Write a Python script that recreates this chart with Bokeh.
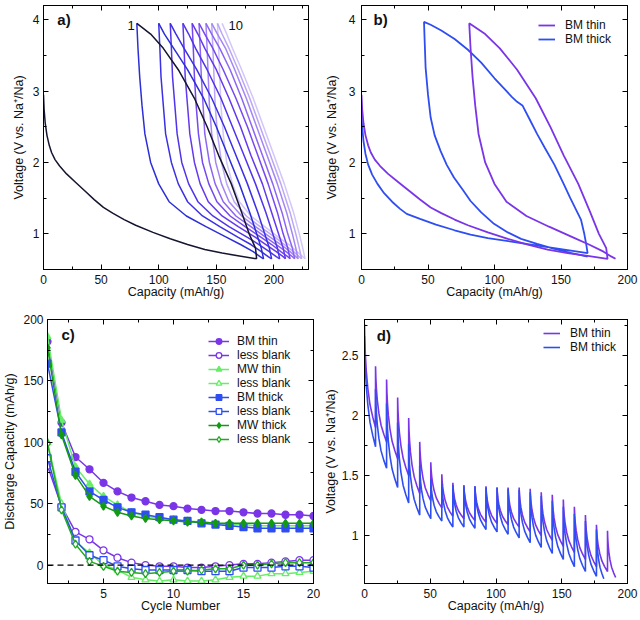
from bokeh.plotting import figure
from bokeh.models import (Range1d, LinearAxis, SingleIntervalTicker, Label,
                          Legend, LegendItem, Span, CustomJSTickFormatter)
from bokeh.layouts import column, row
from bokeh.embed import file_html
from bokeh.resources import INLINE

FONT = "Liberation Sans"
TXT = "#111111"

# ---------------- panel a / b : galvanostatic cycles ----------------
a_dis_volts = [3.95, 3.6, 3.2, 2.8, 2.4, 2.0, 1.7, 1.45, 1.25, 1.1, 0.95, 0.85, 0.75, 0.68, 0.65]
a_chg_volts = [0.65, 0.8, 1.0, 1.3, 1.7, 2.1, 2.5, 2.9, 3.3, 3.6, 3.8, 3.95]

a_dis1_cap = [0, 0.5, 1.5, 3, 5, 7, 10, 14, 20, 28, 36, 44, 52, 60, 70, 80, 95, 110, 125, 140, 155, 170, 185]
a_dis1_v = [2.95, 2.75, 2.55, 2.38, 2.24, 2.14, 2.04, 1.95, 1.84, 1.72, 1.6, 1.48, 1.37, 1.29, 1.2, 1.12,
            1.02, 0.93, 0.85, 0.78, 0.73, 0.69, 0.65]

a_dis2 = [81, 82, 83.5, 85.5, 88, 93, 100, 109, 124, 141, 159, 171, 182, 188, 191]
a_dis3 = [100, 101, 102, 104, 106, 111, 117, 125, 138, 153, 169, 180, 189, 195, 198]
a_dis4 = [110, 111, 112, 114, 116, 120, 126, 134, 147, 161, 177, 187, 196, 202, 205]
a_dis5 = [121, 122, 123, 125, 127, 131, 136, 143, 155, 169, 184, 193, 202, 208, 210]
a_dis6 = [129, 130, 131, 132.5, 134.5, 138, 143.5, 150.5, 162, 175, 189, 198, 206, 212, 214]
a_dis7 = [135, 136, 137, 138.5, 140, 144, 149, 156, 167, 180, 193, 202, 210.5, 216, 218]
a_dis8 = [141, 142, 143, 144, 146, 149.5, 154.5, 161, 172, 184, 197, 206, 214, 219, 221]
a_dis9 = [146, 147, 148, 149, 151, 154.5, 159, 165.5, 176, 188, 201, 209, 217, 222, 224]
a_dis10 = [151, 152, 153, 154, 156, 159, 164, 170, 180, 192, 204, 213, 220, 225, 227]

a_chg1 = [185, 184, 178.5, 172, 163, 152, 142, 131, 117, 104, 93, 81]
a_chg2 = [191, 189, 185, 179, 170, 160, 150, 139, 125, 113, 105, 100]
a_chg3 = [198, 196, 192, 186, 177, 167, 157, 146, 133, 122, 115, 110]
a_chg4 = [205, 203, 199, 193, 184, 174, 164, 154, 142, 132, 126, 121]
a_chg5 = [210, 208, 204, 198, 190, 180, 171, 161, 150, 140, 134, 129]
a_chg6 = [214, 212, 208, 203, 195, 186, 177, 167, 156, 147, 140, 135]
a_chg7 = [218, 216, 212, 207, 199, 190, 181, 172, 162, 153, 146, 141]
a_chg8 = [221, 219, 216, 211, 203, 194, 185, 176, 166, 158, 151, 146]
a_chg9 = [224, 222, 219, 214, 206, 197, 188, 179, 169, 161, 155, 151]
a_chg10 = [227, 225, 222, 217, 209, 200, 191, 182, 172, 164, 159, 155]

a_cycle_colors = ["#151530", "#2c2fd8", "#3b30e4", "#4f34ec", "#6438ee",
                  "#7648f0", "#8c66f2", "#a386f4", "#bba6f7", "#d3c6fa"]

# panel b, BM thick
b_thick_dis1_cap = [0, 0.5, 1.5, 3, 5, 8, 12, 17, 23, 29, 34, 44, 56, 70, 82, 95, 120, 145, 170]
b_thick_dis1_v = [2.65, 2.5, 2.3, 2.12, 1.97, 1.83, 1.7, 1.57, 1.45, 1.35, 1.28, 1.21, 1.13, 1.05, 0.99,
                  0.94, 0.87, 0.8, 0.73]
b_thick_chg1_cap = [170, 169, 167.5, 165, 161, 157, 152, 145, 138, 132, 126, 121, 117, 113, 108, 100,
                    90, 80, 70, 60, 52, 47]
b_thick_chg1_v = [0.73, 0.85, 1.0, 1.2, 1.35, 1.5, 1.7, 1.97, 2.2, 2.4, 2.62, 2.8, 2.85, 2.92, 3.02,
                  3.18, 3.4, 3.58, 3.73, 3.85, 3.93, 3.97]
b_thick_dis2_cap = [47, 47.5, 48.2, 50, 52, 55, 59.5, 64, 69.5, 76, 82, 90, 99.6, 110, 120, 132, 145, 158, 170]
b_thick_dis2_v = [3.97, 3.7, 3.33, 2.95, 2.63, 2.38, 2.16, 1.97, 1.79, 1.62, 1.46, 1.3, 1.14, 1.02, 0.93,
                  0.86, 0.79, 0.73, 0.68]

# ---------------- panel c : discharge capacity vs cycle ----------------
c_cycles = list(range(1, 21))
c_bm_thin = [182, 116, 88, 78, 67, 60, 55, 52, 49, 48, 46, 45, 44, 44, 43, 42, 42, 41, 41, 40]
c_bm_thin_lb = [81, 48, 27, 21, 12, 6, 2, 0, -1, -1, -2, -2, -1, 0, 1, 1, 2, 3, 4, 4]
c_mw_thin = [186, 118, 80, 66, 56, 49, 43, 40, 38, 37, 36, 35, 34, 33, 33, 32, 32, 32, 32, 32]
c_mw_thin_lb = [100, 50, 19, 10, 0, -4, -10, -12, -13, -12, -13, -13, -12, -10, -9, -9, -7, -7, -6, -5]
c_bm_thick = [164, 108, 76, 60, 53, 47, 43, 41, 39, 37, 36, 34, 33, 32, 31, 30, 30, 30, 30, 30]
c_bm_thick_lb = [87, 47, 20, 8, 4, -1, -3, -4, -4, -4, -4, -5, -5, -5, -2, -2, -2, -1, -1, -2]
c_mw_thick = [177, 106, 73, 56, 48, 43, 40, 38, 37, 36, 35, 35, 34, 34, 34, 34, 34, 34, 34, 34]
c_mw_thick_lb = [99, 45, 17, 3, -1, -5, -6, -7, -6, -5, -5, -4, -3, -3, 0, 0, 1, 2, 2, 2]
c_labels = ["BM thin", "less blank", "MW thin", "less blank",
            "BM thick", "less blank", "MW thick", "less blank"]

# ---------------- panel d : pulsed discharge ----------------
d_thin_start = [0, 8.4, 16.8, 25.2, 33.6, 42.0, 50.4, 58.8, 67.2, 75.6, 84.0, 92.4, 100.8, 109.2,
                117.6, 126.0, 134.4, 142.8, 151.2, 159.6, 168.0, 176.4, 184.8]
d_thin_end = 191
d_thin_top = [2.76, 2.41, 2.30, 2.15, 1.98, 1.78, 1.61, 1.51, 1.44, 1.42, 1.41, 1.41, 1.40, 1.40,
              1.40, 1.39, 1.36, 1.34, 1.30, 1.24, 1.17, 1.09, 1.04]
d_thin_bottom = [1.90, 1.78, 1.64, 1.50, 1.35, 1.29, 1.23, 1.16, 1.14, 1.125, 1.11, 1.10, 1.09, 1.07,
                 1.03, 1.00, 0.96, 0.91, 0.86, 0.80, 0.74, 0.70, 0.65]
d_thick_start = [0, 8.4, 16.8, 25.2, 33.6, 42.0, 50.4, 58.8, 67.2, 75.6, 84.0, 92.4, 100.8, 109.2,
                 117.6, 126.0, 134.4, 142.8, 151.2, 159.6, 168.0, 176.4]
d_thick_end = 182
d_thick_top = [2.66, 2.22, 2.10, 1.94, 1.76, 1.58, 1.47, 1.43, 1.42, 1.41, 1.41, 1.40, 1.40, 1.39,
               1.38, 1.36, 1.33, 1.29, 1.24, 1.18, 1.12, 1.05]
d_thick_bottom = [1.74, 1.56, 1.40, 1.27, 1.17, 1.14, 1.12, 1.07, 1.07, 1.06, 1.05, 1.03, 1.01, 0.98,
                  0.94, 0.90, 0.85, 0.80, 0.74, 0.70, 0.66, 0.64]
# relaxation-decay profile of one pulse
d_pulse_frac_x = [0, 0.03, 0.08, 0.16, 0.3, 0.5, 0.75, 1.0]
d_pulse_frac_drop = [0, 0.16, 0.3, 0.45, 0.62, 0.78, 0.9, 1.0]

THIN = "#7a35e8"
THICK = "#2e4ef2"
MW_THIN = "#66ee66"
MW_THICK = "#139a13"


def style_axis(ax):
    ax.axis_line_color = "black"
    ax.axis_line_width = 1
    ax.major_tick_in = 5
    ax.major_tick_out = 0
    ax.minor_tick_in = 3
    ax.minor_tick_out = 0
    ax.major_tick_line_color = "black"
    ax.minor_tick_line_color = "black"
    ax.major_label_text_font = FONT
    ax.major_label_text_font_size = "12px"
    ax.major_label_text_color = TXT
    ax.axis_label_text_font = FONT
    ax.axis_label_text_font_size = "12.5px"
    ax.axis_label_text_font_style = "normal"
    ax.axis_label_text_color = TXT


def make_fig(w, h, xr, yr, bl, br, bt, bb, xint, yint, xlabel, ylabel,
             ylab_so=4, yaxis_sub=4, yfmt=None):
    p = figure(width=w, height=h, x_range=Range1d(*xr), y_range=Range1d(*yr),
               output_backend="svg", toolbar_location=None,
               min_border_left=bl, min_border_right=br, min_border_top=bt, min_border_bottom=bb)
    p.background_fill_color = "white"
    p.border_fill_color = "white"
    p.outline_line_color = "black"
    p.outline_line_width = 1
    p.outline_line_alpha = 1
    p.grid.visible = False
    xa = p.xaxis[0]
    ya = p.yaxis[0]
    xa.ticker = SingleIntervalTicker(interval=xint, num_minor_ticks=2)
    ya.ticker = SingleIntervalTicker(interval=yint, num_minor_ticks=2)
    if yfmt is not None:
        ya.formatter = yfmt
    style_axis(xa)
    style_axis(ya)
    xa.axis_label = xlabel
    ya.axis_label = ylabel
    xa.major_label_standoff = 5
    xa.axis_label_standoff = -2
    ya.major_label_standoff = yaxis_sub
    ya.axis_label_standoff = ylab_so
    for loc, iv in (("above", xint), ("right", yint)):
        ax = LinearAxis(ticker=SingleIntervalTicker(interval=iv, num_minor_ticks=2),
                        formatter=CustomJSTickFormatter(code="return ''"))
        style_axis(ax)
        ax.major_label_text_font_size = "1px"
        ax.major_label_standoff = 0
        p.add_layout(ax, loc)
    return p


def panel_label(p, x, y, text):
    p.add_layout(Label(x=x, y=y, text=text, text_font=FONT, text_font_style="bold",
                       text_font_size="15px", text_baseline="middle", text_color=TXT))


def make_legend(items, x, y, gw, lh, standoff):
    return Legend(items=items, location=(x, y), label_text_font=FONT, label_text_font_size="12px",
                  label_text_color=TXT, label_height=lh, glyph_height=lh, glyph_width=gw,
                  label_standoff=standoff, spacing=0, padding=0, margin=0,
                  border_line_alpha=0, background_fill_alpha=0)


VOLT = "Voltage (V vs. Na\u207a/Na)"
CAP = "Capacity (mAh/g)"

# frame geometry (px)
ROW1_H, ROW2_H = 306, 312
R1_TOP, R1_BOT = 5, 37
R2_TOP, R2_BOT = 13, 35
F1_H = ROW1_H - R1_TOP - R1_BOT
F2_H = ROW2_H - R2_TOP - R2_BOT

# ---------------- panel a ----------------
pa = make_fig(320, ROW1_H, (0, 230), (0.5, 4.2), 43, 12, R1_TOP, R1_BOT, 50, 1, CAP, VOLT,
              ylab_so=4, yaxis_sub=4)
dis_list = [a_dis2, a_dis3, a_dis4, a_dis5, a_dis6, a_dis7, a_dis8, a_dis9, a_dis10]
chg_list = [a_chg1, a_chg2, a_chg3, a_chg4, a_chg5, a_chg6, a_chg7, a_chg8, a_chg9, a_chg10]
for i in range(9, 0, -1):
    col = a_cycle_colors[i]
    pa.line(chg_list[i], a_chg_volts, line_color=col, line_width=1.5)
    pa.line(dis_list[i - 1], a_dis_volts, line_color=col, line_width=1.5)
pa.line(a_dis1_cap, a_dis1_v, line_color=a_cycle_colors[0], line_width=1.5)
pa.line(a_chg1, a_chg_volts, line_color=a_cycle_colors[0], line_width=1.5)
panel_label(pa, 12, 4.01, "a)")
pa.add_layout(Label(x=73, y=3.92, text="1", text_font=FONT, text_font_size="13px",
                    text_baseline="middle", text_color=TXT))
pa.add_layout(Label(x=160.6, y=3.92, text="10", text_font=FONT, text_font_size="13px",
                    text_baseline="middle", text_color=TXT))

# ---------------- panel b ----------------
pb = make_fig(318, ROW1_H, (0, 200), (0.5, 4.2), 41, 11, R1_TOP, R1_BOT, 50, 1, CAP, VOLT,
              ylab_so=7, yaxis_sub=6)
thin_x = a_dis1_cap + a_chg1 + a_dis2
thin_y = a_dis1_v + a_chg_volts + a_dis_volts
thick_x = b_thick_dis1_cap + b_thick_chg1_cap + b_thick_dis2_cap
thick_y = b_thick_dis1_v + b_thick_chg1_v + b_thick_dis2_v
rb_thick = pb.line(thick_x, thick_y, line_color=THICK, line_width=1.8)
rb_thin = pb.line(thin_x, thin_y, line_color=THIN, line_width=1.8)
panel_label(pb, 9, 4.0, "b)")
pb.add_layout(make_legend([LegendItem(label="BM thin", renderers=[rb_thin]),
                           LegendItem(label="BM thick", renderers=[rb_thick])],
                          177, F1_H - 13 - 28, 17, 14, 10))

# ---------------- panel c ----------------
pc = make_fig(320, ROW2_H, (1, 20), (-15, 200), 43, 7, R2_TOP, R2_BOT, 5, 50, "Cycle Number",
              "Discharge Capacity (mAh/g)", ylab_so=3, yaxis_sub=4)
pc.add_layout(Span(location=0, dimension="width", line_color="black", line_dash="6 4", line_width=1.3))
c_series = [
    (c_bm_thin, THIN, "circle", True),
    (c_bm_thin_lb, THIN, "circle", False),
    (c_mw_thin, MW_THIN, "triangle", True),
    (c_mw_thin_lb, MW_THIN, "triangle", False),
    (c_bm_thick, THICK, "square", True),
    (c_bm_thick_lb, THICK, "square", False),
    (c_mw_thick, MW_THICK, "diamond", True),
    (c_mw_thick_lb, "#22aa22", "diamond", False),
]
c_items = []
for (vals, col, mk, filled), lab in zip(c_series, c_labels):
    ln = pc.line(c_cycles, vals, line_color=col, line_width=1.5)
    sc = pc.scatter(c_cycles, vals, marker=mk, size=7 if mk != "diamond" else 8,
                    fill_color=col if filled else "white", line_color=col, line_width=1.3)
    c_items.append(LegendItem(label=lab, renderers=[ln, sc]))
panel_label(pc, 2.0, 188, "c)")
pc.add_layout(make_legend(c_items, 161, F2_H - 15 - 112, 21, 14, 8))

# ---------------- panel d ----------------


def gitt_path(starts, end, tops, bottoms):
    xs, ys = [], []
    nxt = starts[1:] + [end]
    for x0, x1, t, b in zip(starts, nxt, tops, bottoms):
        for fx, fd in zip(d_pulse_frac_x, d_pulse_frac_drop):
            xs.append(x0 + fx * (x1 - x0))
            ys.append(t - fd * (t - b))
    return xs, ys


dfmt = CustomJSTickFormatter(code="return String(tick)")
pd_ = make_fig(318, ROW2_H, (0, 200), (0.6, 2.8), 41, 11, R2_TOP, R2_BOT, 50, 0.5, CAP, VOLT,
               ylab_so=1, yaxis_sub=6, yfmt=dfmt)
tx, ty = gitt_path(d_thick_start, d_thick_end, d_thick_top, d_thick_bottom)
nx, ny = gitt_path(d_thin_start, d_thin_end, d_thin_top, d_thin_bottom)
rd_thin = pd_.line(nx, ny, line_color=THIN, line_width=1.6)
rd_thick = pd_.line(tx, ty, line_color=THICK, line_width=1.6)
panel_label(pd_, 9.3, 2.67, "d)")
pd_.add_layout(make_legend([LegendItem(label="BM thin", renderers=[rd_thin]),
                            LegendItem(label="BM thick", renderers=[rd_thick])],
                           179, F2_H - 7 - 28, 17, 14, 10))

layout = column(row(pa, pb), row(pc, pd_))
open("out.html", "w").write(file_html(layout, INLINE))
